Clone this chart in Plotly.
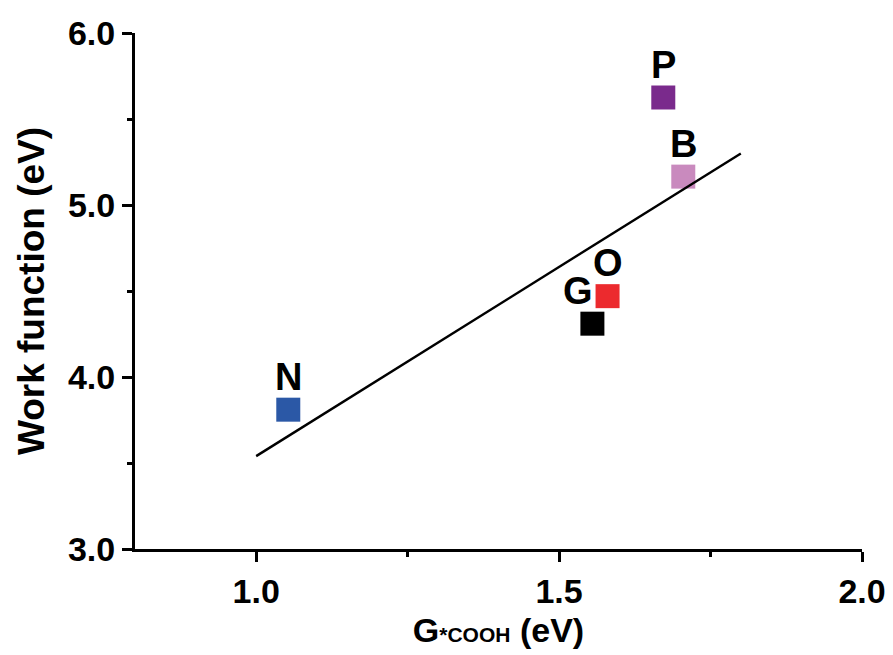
import plotly.graph_objects as go

# Catalyst dopants: COOH* adsorption free energy vs. work function
labels = ["N", "G", "O", "P", "B"]
g_cooh = [1.053, 1.555, 1.580, 1.672, 1.705]
work_function = [3.81, 4.31, 4.47, 5.625, 5.165]
colors = ["#2b58a6", "#000000", "#ec2a2e", "#7a2a8c", "#c98abe"]

# Linear trend line endpoints
fit_x = [1.0, 1.8]
fit_y = [3.54, 5.30]

# Label offsets (pixels) relative to each marker
label_dx = [0, -14, 0, 0, 0]

FONT = "Arial, Liberation Sans, Helvetica, sans-serif"

fig = go.Figure()

for lab, x, y, c in zip(labels, g_cooh, work_function, colors):
    fig.add_trace(go.Scatter(
        x=[x], y=[y], mode="markers", name=lab,
        marker=dict(symbol="square", size=24, color=c, line=dict(width=0)),
        showlegend=False,
    ))

fig.add_trace(go.Scatter(
    x=fit_x, y=fit_y, mode="lines",
    line=dict(color="black", width=2.4),
    showlegend=False,
))

for lab, x, y, dx in zip(labels, g_cooh, work_function, label_dx):
    fig.add_annotation(
        x=x, y=y, text=f"<b>{lab}</b>", showarrow=False,
        xanchor="center", yanchor="bottom", xshift=dx, yshift=10,
        font=dict(family=FONT, size=38, color="black"),
    )

axis_common = dict(
    showline=True, linecolor="black", linewidth=3,
    ticks="outside", ticklen=10, tickwidth=3, tickcolor="black",
    showgrid=False, zeroline=False, mirror=False,
    tickfont=dict(family=FONT, size=34, color="black", weight="bold"),
    tickformat=".1f",
)

fig.update_xaxes(
    range=[0.8, 2.0], tickvals=[1.0, 1.5, 2.0],
    automargin="bottom",
    minor=dict(ticks="outside", ticklen=5, tickwidth=3, tickcolor="black",
               tick0=1.0, dtick=0.25),
    title=dict(
        text="<b>G<span style='font-size:21px'>*COOH</span> (eV)</b>",
        font=dict(family=FONT, size=34, color="black"), standoff=10,
    ),
    **axis_common,
)

fig.update_yaxes(
    range=[3.0, 6.0], tickvals=[3.0, 4.0, 5.0, 6.0],
    automargin="left",
    minor=dict(ticks="outside", ticklen=5, tickwidth=3, tickcolor="black",
               tick0=3.0, dtick=0.5),
    title=dict(
        text="<b>Work function (eV)</b>",
        font=dict(family=FONT, size=37, color="black"), standoff=12,
    ),
    **axis_common,
)

fig.update_layout(
    width=893, height=655,
    margin=dict(l=135, r=31, t=33, b=106),
    plot_bgcolor="white", paper_bgcolor="white",
)

fig.write_html("out.html")
